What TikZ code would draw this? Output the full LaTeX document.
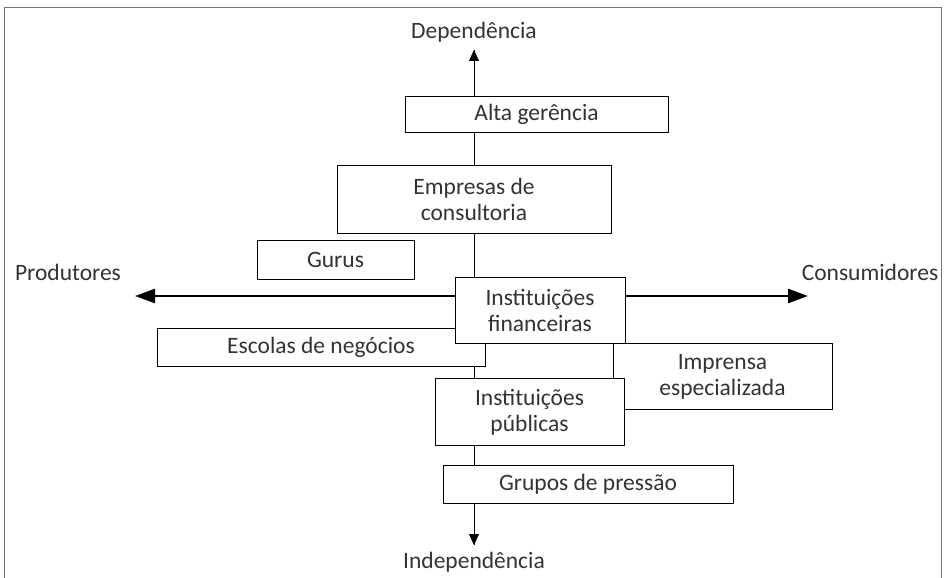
\documentclass[tikz,border=0pt]{standalone}
\usepackage{fontspec}
\setmainfont{Carlito}
\usetikzlibrary{arrows.meta}

\begin{document}
\begin{tikzpicture}[x=1pt,y=-1pt]
        \tikzstyle{every node}=[font=\fontsize{23.5}{26}\selectfont,text=black!80]
        \tikzstyle{box}=[draw,fill=white,thin,align=center,inner sep=0pt]
        \tikzstyle{axis}=[thin,-{Triangle[length=11pt,width=10pt]}]
        \tikzstyle{wide}=[line width=2.6pt,-{Triangle[length=20pt,width=14pt]}]
        \tikzstyle{pole}=[draw=none]

        \useasboundingbox (0,0) rectangle (946,578);

        % frame, open at the bottom
        \draw[black!55,line width=1pt] (4,578) -- (4,7.5) -- (941,7.5) -- (941,578);

        % the four ends of the axes
        \node [pole] (dep) at (474,32) {Dependência};
        \node [pole] (indep) at (474,562) {Independência};
        \node [pole] (prod) at (68,272) {Produtores};
        \node [pole] (cons) at (870,272) {Consumidores};
        \coordinate (top) at (474,50);
        \coordinate (bottom) at (474,545);
        \coordinate (ptip) at (135,296);
        \coordinate (ctip) at (808,296);

        % vertical axis, under the boxes
        \draw [thin] (top) -- (bottom);
        \draw [axis] (474,96) -- (top);
        \draw [axis] (474,503) -- (bottom);

        \node [box,minimum width=263,minimum height=36] (alta) at (536.5,114) {Alta gerência};
        \node [box,minimum width=274,minimum height=68] (empresas) at (474,199) {Empresas de\\consultoria};
        \node [box,minimum width=157,minimum height=39] (gurus) at (335.5,259.5) {Gurus};
        \node [box,minimum width=328,minimum height=38] (escolas) at (321,347) {Escolas de negócios};
        \node [box,minimum width=219,minimum height=66] (imprensa) at (722.5,376.5) {Imprensa\\especializada};
        \node [box,minimum width=170,minimum height=66] (fin) at (540,310) {Instituições\\financeiras};
        \node [box,minimum width=189,minimum height=67] (publicas) at (529.5,412) {Instituições\\públicas};
        \node [box,minimum width=290,minimum height=38] (grupos) at (588,484) {Grupos de pressão};

        % horizontal axis
        \draw [wide] (fin.west |- ptip) -- (ptip);
        \draw [wide] (fin.east |- ctip) -- (ctip);
\end{tikzpicture}
\end{document}
